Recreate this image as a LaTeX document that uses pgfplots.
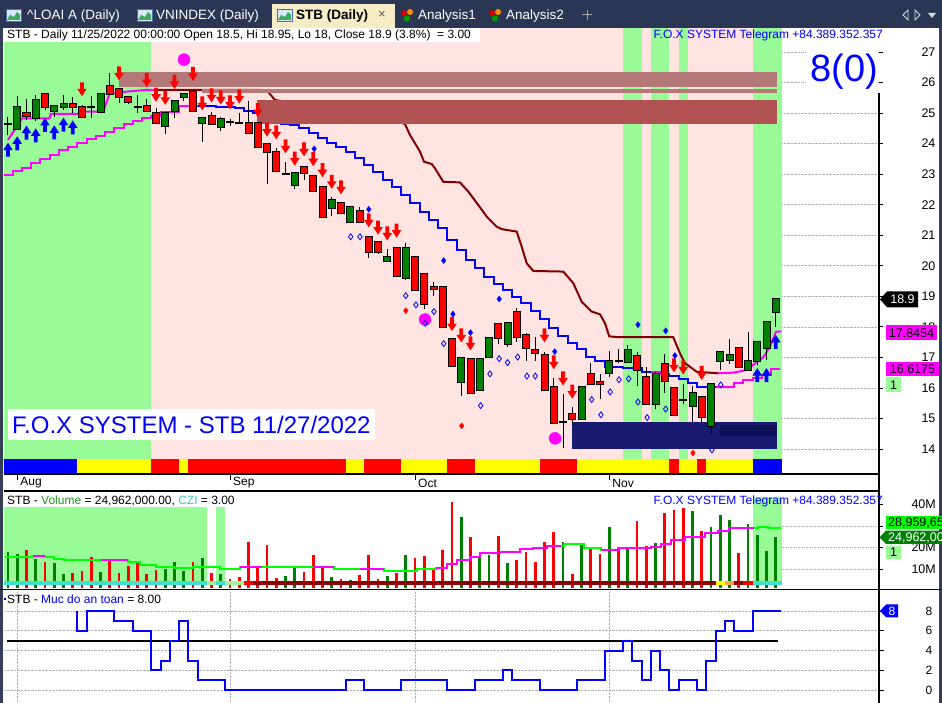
\documentclass[border=0pt]{standalone}
\usepackage{pgfplots}
\pgfplotsset{compat=1.18}
\usepackage{pgfplotstable}
\usepackage{fontspec}
\setmainfont{Liberation Sans}
\newcommand{\fs}[1]{\fontsize{#1}{#1}\selectfont}

\definecolor{bggreen}{RGB}{152,251,152}
\definecolor{bgpink}{RGB}{255,228,225}
\definecolor{cgreen}{RGB}{0,128,0}
\definecolor{cred}{RGB}{255,0,0}
\definecolor{rose}{RGB}{181,120,120}
\definecolor{darkrose}{RGB}{178,82,82}
\definecolor{navy}{RGB}{25,25,112}
\definecolor{navyd}{RGB}{16,16,88}
\definecolor{maroon}{RGB}{128,0,0}
\definecolor{mag}{RGB}{255,0,255}
\definecolor{pblue}{RGB}{0,0,255}
\definecolor{lime}{RGB}{0,255,0}
\definecolor{turq}{RGB}{64,224,208}
\definecolor{dred}{RGB}{139,0,0}
\definecolor{orng}{RGB}{255,160,80}
\definecolor{sy}{RGB}{255,255,0}
\definecolor{tabbg}{RGB}{42,54,84}
\definecolor{tabact}{RGB}{246,236,198}
\definecolor{border}{RGB}{52,62,86}
\definecolor{volgreen}{RGB}{30,150,30}
\definecolor{czi}{RGB}{60,200,200}
\definecolor{iconbg}{RGB}{215,232,250}
\definecolor{iconfr}{RGB}{70,110,170}
\definecolor{icongr}{RGB}{60,170,90}

\pgfdeclareplotmark{dnarrow}{%
  \pgfpathmoveto{\pgfqpoint{-1.8pt}{7pt}}%
  \pgfpathlineto{\pgfqpoint{1.8pt}{7pt}}%
  \pgfpathlineto{\pgfqpoint{1.8pt}{0.5pt}}%
  \pgfpathlineto{\pgfqpoint{4.8pt}{0.5pt}}%
  \pgfpathlineto{\pgfqpoint{0pt}{-7pt}}%
  \pgfpathlineto{\pgfqpoint{-4.8pt}{0.5pt}}%
  \pgfpathlineto{\pgfqpoint{-1.8pt}{0.5pt}}%
  \pgfpathclose\pgfusepathqfill}
\pgfdeclareplotmark{uparrow}{%
  \pgfpathmoveto{\pgfqpoint{-1.8pt}{-7pt}}%
  \pgfpathlineto{\pgfqpoint{1.8pt}{-7pt}}%
  \pgfpathlineto{\pgfqpoint{1.8pt}{-0.5pt}}%
  \pgfpathlineto{\pgfqpoint{4.8pt}{-0.5pt}}%
  \pgfpathlineto{\pgfqpoint{0pt}{7pt}}%
  \pgfpathlineto{\pgfqpoint{-4.8pt}{-0.5pt}}%
  \pgfpathlineto{\pgfqpoint{-1.8pt}{-0.5pt}}%
  \pgfpathclose\pgfusepathqfill}

\newcommand{\brect}[5]{\addplot[fill=#1, draw=none, forget plot] coordinates {(#2,#4) (#2,#5) (#3,#5) (#3,#4)};}

\pgfplotstableread{
i o h l c vc vol
0 24.65 24.88 24.28 24.65 1 18.1
1 24.47 25.56 24.45 25.19 1 17.1
2 24.99 25.45 24.77 24.92 0 18.9
3 24.83 25.58 24.75 25.42 1 14.8
4 25.63 25.65 25.10 25.19 0 13.5
5 25.08 25.25 24.87 25.23 1 13.1
6 25.21 25.58 25.10 25.30 1 7.8
7 25.30 25.51 25.00 25.21 0 8.4
8 25.19 25.27 24.88 24.88 0 9.4
9 25.19 25.56 24.84 25.19 0 15.7
10 25.02 25.65 25.00 25.63 1 8.8
11 25.88 26.30 25.60 25.62 0 13.8
12 25.78 25.80 25.34 25.52 0 8.4
13 25.52 25.52 25.30 25.37 0 11.7
14 25.19 25.58 25.00 25.19 0 12.9
15 25.23 25.45 25.08 25.08 0 7.8
16 24.99 25.17 24.66 24.66 0 9.7
17 24.58 24.99 24.30 24.99 1 10.0
18 25.08 25.38 24.85 25.38 1 13.4
19 25.52 25.63 25.41 25.63 1 9.2
20 25.68 25.76 25.08 25.08 0 13.5
21 24.66 24.83 24.06 24.83 1 15.1
22 24.90 25.05 24.63 24.63 0 8.4
23 24.54 24.88 24.40 24.80 1 7.7
24 24.70 24.82 24.58 24.70 0 5.5
25 24.69 24.99 24.69 24.69 0 6.3
26 24.66 25.40 24.34 24.34 0 22.8
27 24.66 24.66 23.88 23.88 0 10.9
28 23.98 23.99 22.67 23.71 0 21.3
29 23.71 23.84 23.09 23.09 0 6.0
30 23.02 23.40 23.02 23.02 1 6.9
31 22.63 23.03 22.50 23.03 1 10.7
32 23.22 23.26 22.80 23.03 0 8.8
33 22.94 22.97 22.44 22.44 0 16.6
34 22.57 22.57 21.59 21.59 0 10.7
35 21.88 22.24 21.64 22.15 1 6.3
36 22.04 22.04 21.72 21.72 0 5.5
37 21.42 21.93 21.42 21.93 1 5.2
38 21.79 21.93 21.42 21.42 0 7.2
39 20.95 20.95 20.27 20.46 0 16.6
40 20.77 20.77 20.40 20.46 0 5.5
41 20.17 20.54 20.17 20.28 1 6.9
42 20.57 20.62 19.68 19.68 0 8.1
43 19.59 20.74 19.54 20.57 1 16.6
44 20.28 20.28 19.21 19.21 0 15.2
45 19.72 19.72 18.59 18.74 0 16.2
46 19.32 19.46 19.00 19.23 0 10.1
47 19.32 19.32 17.98 17.98 0 18.9
48 17.60 17.60 16.73 16.73 0 41.2
49 16.18 16.97 15.75 16.97 1 34.1
50 16.95 16.95 15.82 15.82 0 25.1
51 15.92 16.95 15.92 16.95 1 15.4
52 17.02 17.66 17.00 17.62 1 16.6
53 18.08 18.08 17.44 17.62 0 25.4
54 17.43 18.11 17.35 18.11 1 13.1
55 18.48 18.61 17.51 17.68 0 14.3
56 17.73 17.79 16.89 17.30 0 18.1
57 17.24 17.68 16.89 17.13 0 13.5
58 17.07 17.19 15.92 15.92 0 22.6
59 16.02 16.34 14.84 14.84 0 27.3
60 14.87 15.80 14.04 14.87 1 22.8
61 15.15 15.37 14.78 14.97 0 7.8
62 14.97 16.02 14.97 16.02 1 22.3
63 16.45 16.81 16.12 16.12 0 19.3
64 16.18 16.45 15.63 16.12 0 17.1
65 16.48 17.22 16.37 16.88 1 29.7
66 16.88 17.26 16.81 16.88 0 19.3
67 16.85 17.40 16.85 17.24 1 19.7
68 17.04 17.19 16.05 16.58 0 32.4
69 16.36 16.70 15.49 15.49 0 20.8
70 15.49 16.53 15.30 16.46 1 22.3
71 16.77 17.10 15.82 16.23 0 36.2
72 16.00 16.00 15.12 15.12 0 37.5
73 15.61 16.12 15.48 15.61 0 38.2
74 15.42 16.07 14.87 15.82 1 37.0
75 15.71 15.71 14.87 15.05 0 27.7
76 14.76 16.12 14.48 16.12 1 29.4
77 16.88 17.17 16.59 17.17 1 35.1
78 16.93 17.59 16.80 17.07 1 32.8
79 17.31 17.35 16.68 16.68 0 17.7
80 16.59 17.82 16.59 16.88 1 31.0
81 16.88 17.49 16.75 17.49 1 25.9
82 17.30 18.17 16.92 18.17 1 18.5
83 18.50 18.95 18.00 18.90 1 24.96
}\candles

\begin{document}
\begin{tikzpicture}
\fill[white] (0,0) rectangle (942pt,703pt);

%================ MAIN PRICE PANEL =================
\begin{axis}[
  at={(4pt,229pt)}, anchor=south west, scale only axis,
  width=875pt, height=446pt,
  xmin=-0.4324, xmax=94.162, ymin=13.182, ymax=27.786,
  axis line style={draw=none},
  xtick=\empty,
  ytick={14,15,...,27},
  ytick pos=right, yticklabel pos=right,
  tick align=outside, major tick length=4pt,
  ytick style={black, line width=0.8pt},
  yticklabel style={font=\fs{12.5}, anchor=west, xshift=35pt},
  ymajorgrids, grid style={gray!60, densely dotted, line width=0.6pt},
  /pgf/number format/assume math mode=true,
]
% background shading
\brect{bgpink}{15.5}{83.64}{13.673}{27.9}
\brect{bggreen}{-0.5}{15.5}{13.673}{27.9}
\brect{bggreen}{66.5}{68.5}{13.673}{27.9}
\brect{bggreen}{69.5}{71.5}{13.673}{27.9}
\brect{bggreen}{72.5}{73.5}{13.673}{27.9}
\brect{bggreen}{80.5}{83.64}{13.673}{27.9}
% state strip
\brect{pblue}{-0.5}{7.5}{13.225}{13.673}
\brect{sy}{7.5}{15.5}{13.225}{13.673}
\brect{cred}{15.5}{18.5}{13.225}{13.673}
\brect{sy}{18.5}{19.5}{13.225}{13.673}
\brect{cred}{19.5}{36.5}{13.225}{13.673}
\brect{sy}{36.5}{38.5}{13.225}{13.673}
\brect{cred}{38.5}{42.5}{13.225}{13.673}
\brect{sy}{42.5}{47.5}{13.225}{13.673}
\brect{cred}{47.5}{50.5}{13.225}{13.673}
\brect{sy}{50.5}{57.5}{13.225}{13.673}
\brect{cred}{57.5}{61.5}{13.225}{13.673}
\brect{sy}{61.5}{71.5}{13.225}{13.673}
\brect{cred}{71.5}{72.5}{13.225}{13.673}
\brect{sy}{72.5}{74.5}{13.225}{13.673}
\brect{cred}{74.5}{75.5}{13.225}{13.673}
\brect{sy}{75.5}{80.5}{13.225}{13.673}
\brect{pblue}{80.5}{83.64}{13.225}{13.673}

% slow trailing line
\addplot[mag, line width=2pt, const plot] coordinates {(-0.5,22.97) (0.5,23.11) (1.5,23.19) (2.5,23.36) (3.5,23.49) (4.5,23.63) (5.5,23.79) (6.5,23.90) (7.5,24.01) (8.5,24.14) (9.5,24.25) (10.5,24.39) (11.5,24.52) (12.5,24.64) (13.5,24.75) (14.5,24.85) (15.5,24.90) (16.5,25.05) (17.5,25.05) (18.5,25.23) (19.5,25.23) (20.5,25.23)};
\addplot[pblue, line width=2pt, const plot] coordinates {(20.5,25.23) (21.5,25.23) (22.5,25.19) (23.5,25.19) (24.5,25.16) (25.5,25.08) (26.5,25.01) (27.5,24.90) (28.5,24.77) (29.5,24.64) (30.5,24.61) (31.5,24.50) (32.5,24.34) (33.5,24.17) (34.5,24.01) (35.5,23.88) (36.5,23.74) (37.5,23.52) (38.5,23.30) (39.5,23.08) (40.5,22.81) (41.5,22.59) (42.5,22.32) (43.5,22.05) (44.5,21.77) (45.5,21.50) (46.5,21.23) (47.5,20.84) (48.5,20.52) (49.5,20.19) (50.5,19.92) (51.5,19.64) (52.5,19.39) (53.5,19.21) (54.5,18.99) (55.5,18.77) (56.5,18.52) (57.5,18.25) (58.5,17.97) (59.5,17.70) (60.5,17.46) (61.5,17.27) (62.5,17.02) (63.5,16.88) (64.5,16.68) (65.5,16.68) (66.5,16.64) (67.5,16.64) (68.5,16.53) (69.5,16.53) (70.5,16.45) (71.5,16.39) (72.5,16.28) (73.5,16.15) (74.5,16.04) (75.5,16.04) (76.5,16.04)};
\addplot[mag, line width=2pt, const plot] coordinates {(69.5,16.53) (70.5,16.45) (71.5,16.45)};
\addplot[mag, line width=2pt, const plot] coordinates {(76.5,16.04) (77.5,16.04) (78.5,16.15) (79.5,16.26) (80.5,16.34) (81.5,16.42) (82.5,16.62) (83.5,16.62)};
% fast trailing line
\addplot[mag, line width=2pt] coordinates {(0.0,24.12) (1.3,24.72) (1.5,24.83) (4.5,24.83) (4.6,24.97) (7.8,24.97) (7.9,25.05) (10.3,25.05) (11.0,25.65) (12.8,25.70) (15.0,25.76) (16.0,25.76)};
\addplot[maroon, line width=2pt] coordinates {(16.0,25.76) (27.46,25.756) (28.11,25.70) (28.86,25.43) (42.38,24.71) (42.92,24.64) (43.46,24.28) (44.54,23.74) (44.97,23.41) (45.81,23.33) (46.16,23.19) (47.06,22.75) (48.86,22.73) (49.76,22.43) (50.84,21.99) (51.75,21.61) (52.83,21.28) (53.37,21.20) (54.99,21.12) (55.54,20.62) (56.08,20.08) (56.79,19.83) (60.03,19.81) (61.11,19.43) (62.02,18.82) (63.10,18.50) (64.0,18.41) (64.54,18.12) (65.0,17.69) (65.98,17.66) (71.92,17.66) (72.65,17.13) (73.19,16.81) (74.45,16.53) (76.79,16.48)};
\addplot[mag, line width=2pt] coordinates {(76.79,16.48) (78.38,16.50) (79.89,16.59) (80.54,16.75) (81.62,16.99) (82.38,17.35) (83.03,17.84) (83.6,17.85)};

% arrows partly hidden behind the zones
\addplot[only marks, mark=dnarrow, color=cred] coordinates {(12,26.30) (15,26.08) (18,26.02) (20,26.28)};

% zones
\brect{rose}{12.0}{83.15}{25.864}{26.345}
\brect{rose}{20.94}{83.15}{25.667}{25.79}
\brect{darkrose}{26.89}{83.15}{24.64}{25.43}
\brect{navy}{61.0}{83.15}{14.0}{14.875}
\brect{navyd}{76.97}{83.15}{14.44}{14.79}

% candles
\addplot[black, line width=1pt, quiver={u=0, v={\thisrow{h}-\thisrow{l}}}] table[x=i, y=l] {\candles};
\addplot[black, line width=8pt, quiver={u=0, v={abs(\thisrow{c}-\thisrow{o})+0.066}}] table[x=i, y expr={min(\thisrow{o},\thisrow{c})-0.033}] {\candles};
\addplot[cgreen, line width=6pt, quiver={u=0, v={\thisrow{c}-\thisrow{o}}}, restrict expr to domain={\thisrow{c}-\thisrow{o}}{0.005:100}] table[x=i, y=o] {\candles};
\addplot[cred, line width=6pt, quiver={u=0, v={\thisrow{o}-\thisrow{c}}}, restrict expr to domain={\thisrow{o}-\thisrow{c}}{0.005:100}] table[x=i, y=c] {\candles};

% signals
\addplot[only marks, mark=*, mark size=6pt, color=mag] coordinates {(19.03,26.75) (45.08,18.24) (59.14,14.35)};
\addplot[only marks, mark=dnarrow, color=cred] coordinates {(8,25.78) (16,25.60) (17,25.50) (21,25.32) (22,25.58) (23,25.51) (24,25.35) (25,25.54) (27,25.10) (28,24.46) (29,24.37) (30,23.91) (31,23.51) (32,23.81) (33,23.49) (34,23.13) (35,22.75) (36,22.57) (39,21.49) (40,21.25) (41,21.06) (42,21.15) (48,18.09) (49,17.72) (50,17.46) (58,17.72) (59,16.84) (60,16.31) (61,15.88) (72,16.74) (73,16.67) (75,16.49)};
\addplot[only marks, mark=uparrow, color=pblue] coordinates {(0,23.80) (1,24.01) (2,24.36) (3,24.27) (4,24.61) (5,24.37) (6,24.62) (7,24.53) (81,16.42) (82,16.42) (83,17.51)};
\addplot[only marks, mark=diamond*, mark size=3pt, color=pblue] coordinates {(33.1,23.83) (39.0,21.85) (47.1,20.17) (48.1,18.42) (50.0,17.81) (53.1,18.91) (59.1,17.19) (68.1,18.07) (71.1,17.87) (72.1,17.06)};
\addplot[only marks, mark=diamond, mark size=3pt, color=pblue, line width=0.8pt] coordinates {(37.05,20.95) (38.05,20.95) (43.0,19.02) (44.1,18.72) (45.1,18.12) (46.05,18.5) (47.1,17.45) (51.1,15.42) (52.1,16.46) (53.1,16.96) (54.0,16.83) (55.1,17.01) (56.1,16.39) (57.0,16.39) (63.1,15.62) (64.1,15.12) (65.1,15.87) (66.05,16.27) (67.1,16.30) (68.1,15.54) (69.1,15.03) (71.1,15.31) (76.1,13.97) (77.05,16.10)};
\addplot[only marks, mark=diamond*, mark size=3pt, color=cred] coordinates {(43.0,18.53) (49.05,14.76) (74.05,13.87)};
\end{axis}

%================ VOLUME PANEL =================
\begin{axis}[
  at={(4pt,115pt)}, anchor=south west, scale only axis,
  width=875pt, height=97pt,
  xmin=-0.4324, xmax=94.162, ymin=1.34, ymax=46.25,
  axis line style={draw=none},
  xtick=\empty,
  ytick={10,20,30,40}, yticklabels={10M,20M,,40M},
  ytick pos=right, yticklabel pos=right,
  tick align=outside, major tick length=4pt,
  ytick style={black, line width=0.8pt},
  yticklabel style={font=\fs{12.5}, anchor=west, xshift=25pt},
]
\brect{bggreen}{-0.5}{21.5}{4.58}{43.47}
\brect{bggreen}{22.5}{23.5}{4.58}{43.47}
\brect{bggreen}{80.5}{83.64}{4.58}{43.47}
\addplot[gray!60, densely dotted, line width=0.6pt] coordinates {(83.64,10) (94.2,10)};
\addplot[gray!60, densely dotted, line width=0.6pt] coordinates {(83.64,20) (94.2,20)};
\addplot[gray!60, densely dotted, line width=0.6pt] coordinates {(83.64,30) (94.2,30)};
\addplot[cgreen, line width=2.7pt, quiver={u=0, v=\thisrow{vol}}, restrict expr to domain={\thisrow{vc}}{0.5:1.5}] table[x=i, y expr=0] {\candles};
\addplot[cred, line width=2.7pt, quiver={u=0, v=\thisrow{vol}}, restrict expr to domain={\thisrow{vc}}{-0.5:0.5}] table[x=i, y expr=0] {\candles};
\addplot[lime, line width=2pt, const plot] coordinates {(-0.3,15.6) (2.7,16.0) (4.0,15.6) (5.0,14.9) (6.0,14.3) (13.0,13.5) (14.3,12.0) (16.0,11.2) (17.9,10.7) (20.0,11.2) (22.9,10.1) (25.1,10.9) (35.2,10.1) (40.6,9.4) (44.2,10.0) (46.3,10.7) (47.5,12.5) (48.5,14.3) (49.9,15.6) (51.0,17.4) (53.2,18.1) (55.4,19.3) (56.8,19.7) (58.3,20.9) (60.1,21.6) (62.3,19.7) (64.1,18.9) (65.9,19.7) (67.3,20.0) (69.5,20.5) (70.6,21.7) (71.7,23.6) (73.2,25.1) (75.3,26.7) (76.8,27.7) (77.9,29.0) (81.1,29.7) (82.2,29.3) (83.6,29.3)};
\addplot[mag, line width=2pt, const plot] coordinates {(2.7,16.0) (4.0,16.0)};
\addplot[mag, line width=2pt, const plot] coordinates {(10,14.3) (13,14.3)};
\addplot[mag, line width=2pt, const plot] coordinates {(25.1,10.9) (27.5,10.9)};
\addplot[mag, line width=2pt, const plot] coordinates {(33,10.9) (35.2,10.9)};
\addplot[mag, line width=2pt, const plot] coordinates {(38,10.1) (40.6,10.1)};
\addplot[mag, line width=2pt, const plot] coordinates {(46.3,10.7) (47.5,12.5) (48.5,14.3) (49.9,15.6) (51.0,17.4) (53.2,18.1) (55.4,19.3) (56.8,19.7) (58.3,20.9) (59.8,20.9)};
\addplot[mag, line width=2pt, const plot] coordinates {(64.1,18.9) (65.9,19.7) (67.3,20.0) (69.5,20.5) (70.6,21.7) (71.7,23.6) (73.2,25.1) (75.3,26.7) (76.8,27.7) (77.9,29.0) (80.6,29.0)};
% bottom state strip
\brect{turq}{-0.5}{21.5}{2.5}{4.58}
\brect{bggreen}{21.5}{22.5}{2.5}{4.58}
\brect{turq}{22.5}{23.5}{2.5}{4.58}
\brect{bggreen}{23.5}{25.5}{2.5}{4.58}
\brect{cred}{25.5}{26.5}{2.5}{4.58}
\brect{dred}{26.5}{76.5}{2.5}{4.58}
\brect{sy}{76.5}{77.5}{2.5}{4.58}
\brect{orng}{77.5}{78.5}{2.5}{4.58}
\brect{dred}{78.5}{79.5}{2.5}{4.58}
\brect{cred}{79.5}{80.5}{2.5}{4.58}
\brect{turq}{80.5}{83.64}{2.5}{4.58}
\end{axis}

%================ SAFETY LEVEL PANEL =================
\begin{axis}[
  at={(4pt,0pt)}, anchor=south west, scale only axis,
  width=875pt, height=112pt,
  xmin=-0.4324, xmax=94.162, ymin=-1.28, ymax=10.01,
  axis line style={draw=none},
  xtick={1,24,44,65}, xticklabel=\empty, xtick style={draw=none},
  ytick={0,2,4,6,8},
  ytick pos=right, yticklabel pos=right,
  tick align=outside, major tick length=5pt,
  ytick style={black, line width=0.8pt},
  yticklabel style={font=\fs{12}, anchor=west, xshift=38pt},
  xmajorgrids, ymajorgrids, grid style={gray!60, densely dotted, line width=0.6pt},
  /pgf/number format/assume math mode=true,
]
\addplot[black, line width=2pt] coordinates {(-0.1,5) (83.2,5)};
\addplot[pblue, line width=2pt, const plot] coordinates {(7.5,8) (7.5,6) (8.5,8) (11.5,7) (13.5,6) (15.5,2) (16.5,3) (17.5,5) (18.5,7) (19.5,3) (20.5,1) (23.5,0) (36.5,1) (38.5,0) (42.5,1) (47.5,0) (50.5,1) (53.5,2) (54.5,1) (57.5,0) (61.5,1) (64.5,4) (66.5,5) (67.5,3) (68.5,1) (69.5,4) (70.5,2) (71.5,0) (72.5,1) (74.5,0) (75.5,3) (76.5,6) (77.5,7) (78.5,6) (80.5,8) (83.6,8)};
\end{axis}

%================ CHROME, LABELS, TEXT (pixel coordinates) =================
\begin{scope}[x=1pt, y=-1pt, yshift=703pt]
% tab bar
\fill[tabbg] (0,0) rectangle (942,28);
\fill[tabact] (272,4) rectangle (395,28);
\foreach \xx in {6,137,277}{
  \filldraw[fill=iconbg, draw=iconfr, line width=0.6] (\xx,9) rectangle ++(15,12);
  \fill[icongr] (\xx+1,20) -- ++(3,-5) -- ++(4,2) -- ++(3,-5) -- ++(3,3) -- ++(0,5) -- cycle;
}
\foreach \xx in {400,488}{
  \fill[red!85!black] (\xx+4,13) circle (3);
  \fill[orange!90!yellow] (\xx+10,12) circle (3);
  \fill[green!60!black] (\xx+7,18.5) circle (3.2);
}
\node[anchor=west, inner sep=0, text=white, font=\fs{13.5}] at (27,16) {\textasciicircum LOAI A (Daily)};
\node[anchor=west, inner sep=0, text=white, font=\fs{13.5}] at (156,16) {VNINDEX (Daily)};
\node[anchor=west, inner sep=0, font=\fs{13.5}\bfseries] at (296,16) {STB (Daily)};
\node[anchor=center, inner sep=0, text=gray!70!black, font=\fs{13}] at (382,15) {×};
\node[anchor=west, inner sep=0, text=white, font=\fs{13.5}] at (418,16) {Analysis1};
\node[anchor=west, inner sep=0, text=white, font=\fs{13.5}] at (506,16) {Analysis2};
\draw[gray!70, line width=1] (582,15) -- (592,15) (587,10) -- (587,20);
\draw[gray!30, line width=0.8] (908,10) -- (903,15) -- (908,20) -- cycle;
\draw[gray!30, line width=0.8] (915,10) -- (920,15) -- (915,20) -- cycle;
\fill[gray!30] (928,13) -- (936,13) -- (932,18) -- cycle;
% window borders
\fill[border] (0,28) rectangle (3,703);
\fill[border] (939,28) rectangle (942,703);

% main header
\fill[white] (4,28) rectangle (480,42);
\node[anchor=west, inner sep=0, font=\fs{12}] at (7,35.5) {STB - Daily 11/25/2022 00:00:00 Open 18.5, Hi 18.95, Lo 18, Close 18.9 (3.8\%)\ \ = 3.00};
\node[anchor=east, inner sep=0, font=\fs{12}, text=pblue] at (883,35.5) {F.O.X SYSTEM Telegram +84.389.352.357};
\fill[white] (806,44) rectangle (878.4,93);
\node[anchor=east, inner sep=0, font=\fs{38}, text=pblue] at (878,72) {8(0)};
\fill[white] (8,409) rectangle (375,440);
\node[anchor=west, inner sep=0, font=\fs{24}, text=pblue] at (12,425) {F.O.X SYSTEM - STB 11/27/2022};

% axis lines
\draw[black, line width=1.2] (4,474) -- (879,474);
\draw[black, line width=1.2] (4,491) -- (879,491);
\draw[black, line width=1.2] (0,589.5) -- (942,589.5);
\draw[black, line width=1.2] (879,93) -- (879,703);
% month ticks
\foreach \mx/\mn in {17.25/Aug,230/Sep,415/Oct,609.25/Nov}{
  \draw[black, line width=0.8] (\mx,474) -- (\mx,480);
  \node[anchor=west, inner sep=0, font=\fs{12}] at (\mx+3,483) {\mn};
}

% main right labels
\fill[black] (880,299.4) -- (887,291.5) -- (918,291.5) -- (918,307.3) -- (887,307.3) -- cycle;
\node[inner sep=0, text=white, font=\fs{12.5}] at (902.5,299.6) {18.9};
\fill[mag] (886,325.5) rectangle (937,340);
\node[inner sep=0, font=\fs{12.5}] at (911.5,333) {17.8454};
\fill[mag] (886,361.7) rectangle (939,376.5);
\node[inner sep=0, font=\fs{12.5}] at (912.5,369.3) {16.6175};
\fill[bggreen] (886,377.5) rectangle (901,391.7);
\node[inner sep=0, font=\fs{12.5}] at (893.5,384.8) {1};

% volume header and labels
\fill[white] (4,493) rectangle (237,507);
\node[anchor=west, inner sep=0, font=\fs{12}] at (7,501) {STB - \textcolor{volgreen}{Volume} = 24,962,000.00, \textcolor{czi}{CZI} = 3.00};
\node[anchor=east, inner sep=0, font=\fs{12}, text=pblue] at (883,501) {F.O.X SYSTEM Telegram +84.389.352.357};
\fill[lime] (886,516) rectangle (942,529.5);
\node[anchor=west, inner sep=0, font=\fs{12.5}] at (888,523) {28,959,65};
\fill[cgreen] (879.5,537.3) -- (886,530.7) -- (942,530.7) -- (942,544) -- (886,544) -- cycle;
\node[anchor=west, inner sep=0, text=white, font=\fs{12.5}] at (888,537.5) {24,962,00};
\fill[bggreen] (886,545.7) rectangle (901,559.3);
\node[inner sep=0, font=\fs{12.5}] at (893.5,552.5) {1};

% safety panel header and label
\fill[pblue] (4,598) rectangle (6,600.5);
\node[anchor=west, inner sep=0, font=\fs{12}] at (7,599) {STB - \textcolor{pblue}{Muc do an toan} = 8.00};
\fill[pblue] (880,610.9) -- (886,604.5) -- (898,604.5) -- (898,617.3) -- (886,617.3) -- cycle;
\node[inner sep=0, text=white, font=\fs{12}] at (892,611) {8};
\end{scope}

\pgfresetboundingbox
\path[use as bounding box] (0,0) rectangle (942pt,703pt);
\end{tikzpicture}
\end{document}
